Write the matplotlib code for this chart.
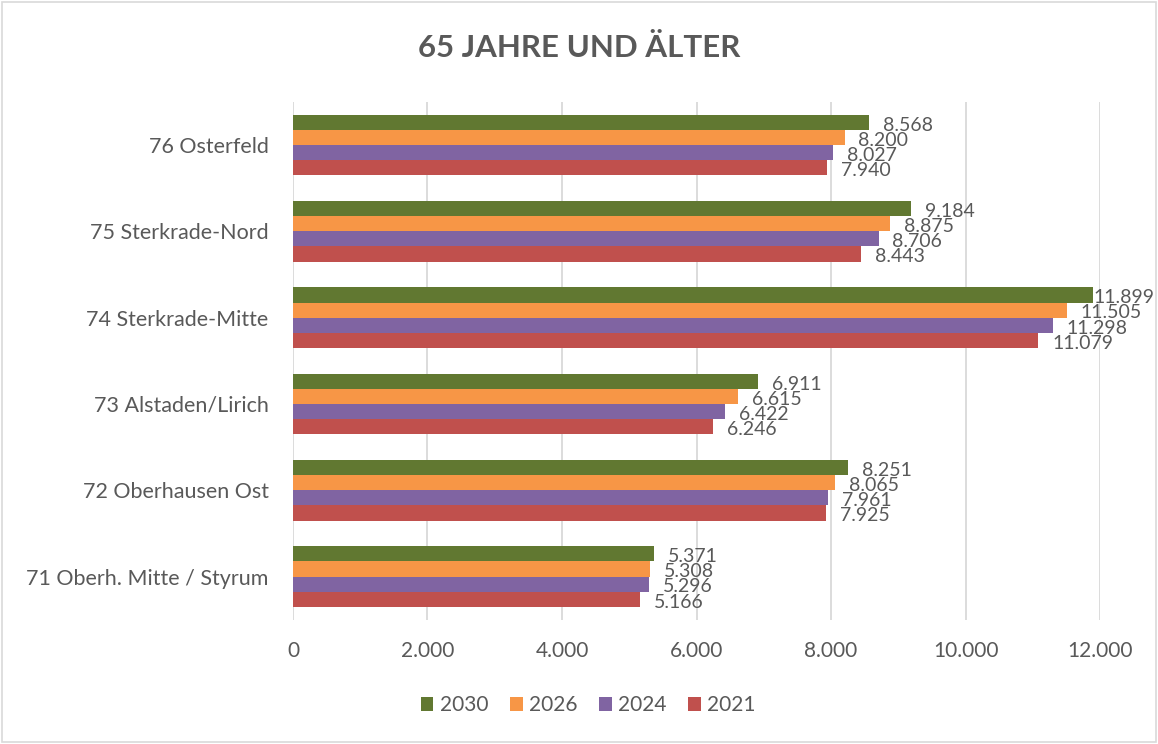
import numpy as np
import matplotlib
matplotlib.use("Agg")
import matplotlib.pyplot as plt
from matplotlib.patches import Rectangle

plt.rcParams['font.family'] = ['Lato', 'DejaVu Sans']

districts = ["71 Oberh. Mitte / Styrum", "72 Oberhausen Ost", "73 Alstaden/Lirich",
             "74 Sterkrade-Mitte", "75 Sterkrade-Nord", "76 Osterfeld"]
years = ["2030", "2026", "2024", "2021"]
v2030 = [5371, 8251, 6911, 11899, 9184, 8568]
v2026 = [5308, 8065, 6615, 11505, 8875, 8200]
v2024 = [5296, 7961, 6422, 11298, 8706, 8027]
v2021 = [5166, 7925, 6246, 11079, 8443, 7940]
xticks = [0, 2000, 4000, 6000, 8000, 10000, 12000]

colors = ["#617831", "#F79646", "#8064A2", "#C0504D"]
txt = "#595959"

def fmt(v):
    return f"{v:,}".replace(",", ".")

fig = plt.figure(figsize=(11.58, 7.44), dpi=100)
ax = fig.add_axes([0.253, 0.167, 0.697, 0.696])

y = np.arange(len(districts))
h = 0.175
series = [v2030, v2026, v2024, v2021]
offsets = [1.5 * h, 0.5 * h, -0.5 * h, -1.5 * h]
for vals, off, col, lab in zip(series, offsets, colors, years):
    bars = ax.barh(y + off, vals, height=h, color=col, label=lab, zorder=3)
    for b, v in zip(bars, vals):
        dx = 0 if v > 11800 else 10
        ax.annotate(fmt(v), (v, b.get_y() + b.get_height() / 2),
                    xytext=(dx, -2), textcoords="offset points",
                    ha="left", va="center", fontsize=14, color=txt,
                    annotation_clip=False)

ax.set_xlim(0, 12000)
ax.set_ylim(-0.5, len(districts) - 0.5)
ax.set_xticks(xticks)
ax.set_xticklabels([fmt(t) for t in xticks], fontsize=15, color=txt)
ax.set_yticks(y)
ax.set_yticklabels(districts, fontsize=15.5, color=txt)
ax.tick_params(length=0, pad=15, axis="x")
ax.tick_params(length=0, pad=17.5, axis="y")
ax.grid(axis="x", color="#D9D9D9", linewidth=1.3, zorder=0)
for s in ax.spines.values():
    s.set_visible(False)

fig.text(0.5, 0.935, "65 JAHRE UND ÄLTER", ha="center", va="center",
         fontsize=22.5, fontweight="bold", color=txt)

ax.legend(loc="center", bbox_to_anchor=(0.508, 0.052), bbox_transform=fig.transFigure,
          ncol=4, frameon=False, fontsize=15, labelcolor=txt,
          handlelength=0.6, handleheight=0.6, handletextpad=0.3, columnspacing=1.05)

fig.patches.append(Rectangle((0.002, 0.003), 0.996, 0.994, transform=fig.transFigure,
                             fill=False, edgecolor="#D9D9D9", linewidth=1.2))

fig.savefig("out.png", dpi=100)
